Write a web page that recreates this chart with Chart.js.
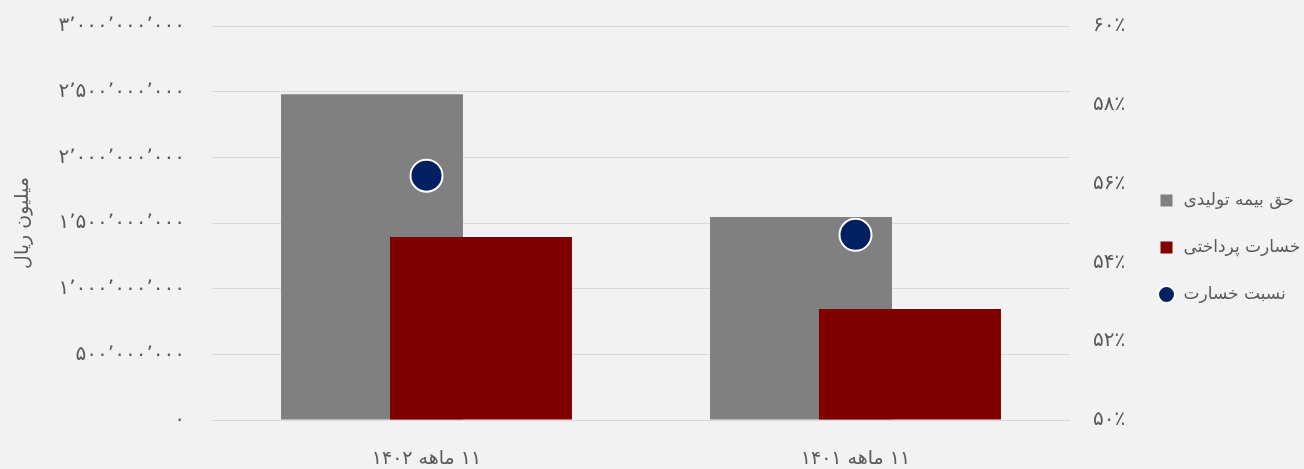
<!DOCTYPE html>
<html lang="fa">
<head>
<meta charset="utf-8">
<script src="https://cdn.jsdelivr.net/npm/chart.js@4.4.1/dist/chart.umd.min.js"></script>
<style>
  html, body { margin: 0; padding: 0; background: #f2f2f2; }
  #wrap { width: 1304px; height: 469px; }
</style>
</head>
<body>
<div id="wrap"><canvas id="nemudar"></canvas></div>
<script>
// دوره‌ها (برچسب‌ها داخل RLE تا عدد و متن درست چیده شوند)
const doreha = ['\u202B۱۱ ماهه ۱۴۰۲\u202C', '\u202B۱۱ ماهه ۱۴۰۱\u202C'];

// میلیون ریال
const haghBimeh = [2480000000, 1545000000];
const khesarat = [1393000000, 845000000];
// درصد
const nesbatKhesarat = [56.2, 54.7];

const tickChap = ['۰', '۵۰۰٬۰۰۰٬۰۰۰', '۱٬۰۰۰٬۰۰۰٬۰۰۰', '۱٬۵۰۰٬۰۰۰٬۰۰۰', '۲٬۰۰۰٬۰۰۰٬۰۰۰', '۲٬۵۰۰٬۰۰۰٬۰۰۰', '۳٬۰۰۰٬۰۰۰٬۰۰۰'];
const tickRast = ['۵۰٪', '۵۲٪', '۵۴٪', '۵۶٪', '۵۸٪', '۶۰٪'];

const rangMatn = '#595959';
Chart.defaults.font.family = '"DejaVu Sans", sans-serif';
Chart.defaults.color = rangMatn;

// میله قرمز باید روی میله خاکستری بیفتد و نقطه‌ها روی هر دو
const tartibRasm = {
  id: 'tartibRasm',
  beforeDatasetsDraw(chart) {
    [0, 1, 2].forEach(i => chart.getDatasetMeta(i).controller.draw());
    return false;
  }
};

// فاصله برچسب‌ها نباید بالای ناحیه نمودار را پایین بکشد
const bePadding = s => { s.paddingTop = 0; s.paddingBottom = 0; };

new Chart(document.getElementById('nemudar'), {
  data: {
    labels: doreha,
    datasets: [{
      type: 'bar',
      label: 'حق بیمه تولیدی',
      data: haghBimeh,
      backgroundColor: '#808080',
      pointStyle: 'rect',
      categoryPercentage: 0.508,
      barPercentage: 1.67,
      yAxisID: 'y'
    }, {
      type: 'bar',
      label: 'خسارت پرداختی',
      data: khesarat,
      backgroundColor: '#800000',
      pointStyle: 'rect',
      categoryPercentage: 0.508,
      barPercentage: 1.67,
      yAxisID: 'y'
    }, {
      type: 'line',
      label: 'نسبت خسارت',
      data: nesbatKhesarat,
      showLine: false,
      backgroundColor: '#002060',
      borderColor: '#ffffff',
      borderWidth: 2,
      pointStyle: 'circle',
      pointRadius: 16,
      pointBackgroundColor: '#002060',
      pointBorderColor: '#ffffff',
      pointBorderWidth: 2,
      yAxisID: 'y1'
    }]
  },
  options: {
    responsive: true,
    maintainAspectRatio: false,
    animation: false,
    layout: { padding: { top: 26, left: 0, right: 0, bottom: 0 } },
    plugins: {
      tooltip: { enabled: false },
      legend: {
        position: 'right',
        maxWidth: 176,
        labels: {
          usePointStyle: true,
          boxHeight: 12,
          padding: 30,
          color: rangMatn,
          font: { size: 17 }
        }
      }
    },
    scales: {
      x: {
        grid: { display: false },
        border: { display: false },
        ticks: { padding: 20, font: { size: 19 }, color: rangMatn },
        afterFit: s => { s.height = 49; }
      },
      y: {
        position: 'left',
        min: 0,
        max: 3000000000,
        ticks: {
          stepSize: 500000000,
          padding: 27,
          font: { size: 20 },
          color: rangMatn,
          callback: (v, i) => tickChap[i]
        },
        grid: { color: '#d9d9d9', lineWidth: 1, drawTicks: false },
        border: { display: false },
        title: { display: true, text: 'میلیون ریال', font: { size: 19 }, color: rangMatn, padding: { top: 12, bottom: 0 } },
        afterFit: s => { s.width = 212; bePadding(s); }
      },
      y1: {
        position: 'right',
        min: 50,
        max: 60,
        ticks: {
          stepSize: 2,
          padding: 23,
          font: { size: 20 },
          color: rangMatn,
          callback: (v, i) => tickRast[i]
        },
        grid: { display: false, drawTicks: false },
        border: { display: false },
        afterFit: s => { s.width = 58; bePadding(s); }
      }
    }
  },
  plugins: [tartibRasm]
});
</script>
</body>
</html>
